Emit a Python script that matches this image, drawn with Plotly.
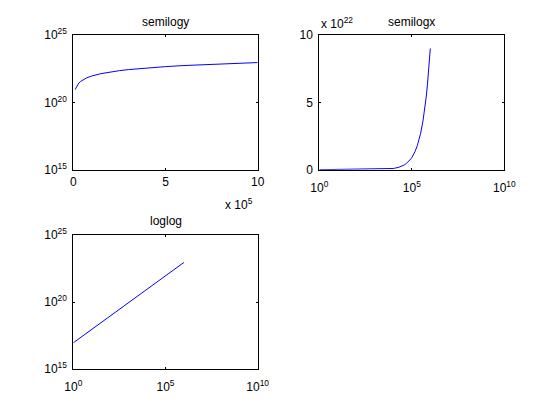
import plotly.graph_objects as go

# Data (mass vs. energy, E ~ m * c^2)
mass = [1, 1e4, 2e4, 3e4, 4e4, 5e4, 6e4, 7e4, 8e4, 9e4, 1e5, 1.5e5, 2e5, 2.5e5,
        3e5, 4e5, 5e5, 6e5, 7e5, 8e5, 9e5, 1e6]
energy = [9e16, 9e20, 1.8e21, 2.7e21, 3.6e21, 4.5e21, 5.4e21, 6.3e21, 7.2e21, 8.1e21,
          9e21, 1.35e22, 1.8e22, 2.25e22, 2.7e22, 3.6e22, 4.5e22, 5.4e22, 6.3e22,
          7.2e22, 8.1e22, 9e22]

titles = ["semilogy", "semilogx", "loglog"]
lin_x_tickvals = [0, 5e5, 1e6]
lin_x_ticktext = ["0", "5", "10"]
lin_y_tickvals = [0, 5e22, 1e23]
lin_y_ticktext = ["0", "5", "10"]
log_x_tickvals = [1, 1e5, 1e10]
log_x_ticktext = ["10<sup>0</sup>", "10<sup>5</sup>", "10<sup>10</sup>"]
log_y_tickvals = [1e15, 1e20, 1e25]
log_y_ticktext = ["10<sup>15</sup>", "10<sup>20</sup>", "10<sup>25</sup>"]
x_exponent = "x 10<sup>5</sup>"
y_exponent = "x 10<sup>22</sup>"

W, H = 560, 420
OFF = 8  # default page body margin
FONT = "Liberation Sans, Arial, Helvetica, sans-serif"

def px(x):
    return (x - OFF) / W

def py(y):
    return 1 - (y - OFF) / H

dom_x_left = [px(73.3), px(257.7)]
dom_x_right = [px(319.3), px(504.3)]
dom_y_top = [py(169.7), py(35)]
dom_y_bot = [py(369), py(235)]

line = dict(color="rgb(0,0,255)", width=1)

fig = go.Figure()
# on the linear-x semilogy panel the point at m = 1 sits on the left spine
fig.add_trace(go.Scatter(x=mass[1:], y=energy[1:], mode="lines", line=line, xaxis="x", yaxis="y"))
fig.add_trace(go.Scatter(x=mass, y=energy, mode="lines", line=line, xaxis="x2", yaxis="y2"))
fig.add_trace(go.Scatter(x=mass, y=energy, mode="lines", line=line, xaxis="x3", yaxis="y3"))

common = dict(showline=True, linecolor="black", linewidth=1, mirror="allticks",
              ticks="inside", ticklen=2, tickcolor="black", showgrid=False,
              zeroline=False, automargin=False,
              tickfont=dict(family=FONT, size=12, color="black"))

fig.update_layout(
    template="none",
    width=W, height=H, margin=dict(l=0, r=0, t=0, b=0, pad=0),
    paper_bgcolor="white", plot_bgcolor="white", showlegend=False,
    font=dict(family=FONT, size=12, color="black"),
    xaxis=dict(domain=dom_x_left, anchor="y", type="linear", range=[0, 1e6],
               tickvals=lin_x_tickvals, ticktext=lin_x_ticktext,
               ticklabelstandoff=1, **common),
    yaxis=dict(domain=dom_y_top, anchor="x", type="log", range=[15, 25],
               tickvals=log_y_tickvals, ticktext=log_y_ticktext,
               ticklabelstandoff=3, **common),
    xaxis2=dict(domain=dom_x_right, anchor="y2", type="log", range=[0, 10],
                tickvals=log_x_tickvals, ticktext=log_x_ticktext,
                ticklabelstandoff=7, **common),
    yaxis2=dict(domain=dom_y_top, anchor="x2", type="linear", range=[0, 1e23],
                tickvals=lin_y_tickvals, ticktext=lin_y_ticktext,
                ticklabelstandoff=3, **common),
    xaxis3=dict(domain=dom_x_left, anchor="y3", type="log", range=[0, 10],
                tickvals=log_x_tickvals, ticktext=log_x_ticktext,
                ticklabelstandoff=7, **common),
    yaxis3=dict(domain=dom_y_bot, anchor="x3", type="log", range=[15, 25],
                tickvals=log_y_tickvals, ticktext=log_y_ticktext,
                ticklabelstandoff=3, **common),
)

ann_font = dict(family=FONT, size=12, color="black")
title_pos = [((73.3 + 257.7) / 2, 22.5), ((319.3 + 504.3) / 2, 22.5), ((73.3 + 257.7) / 2, 220.8)]
for t, (x, y) in zip(titles, title_pos):
    fig.add_annotation(text=t, x=px(x), y=py(y), xref="paper", yref="paper",
                       xanchor="center", yanchor="middle", showarrow=False, font=ann_font)

fig.add_annotation(text=x_exponent, x=px(255), y=py(204), xref="paper", yref="paper",
                   xanchor="right", yanchor="middle", showarrow=False, font=ann_font)
fig.add_annotation(text=y_exponent, x=px(319), y=py(23), xref="paper", yref="paper",
                   xanchor="left", yanchor="middle", showarrow=False, font=ann_font)

fig.write_html("out.html")
